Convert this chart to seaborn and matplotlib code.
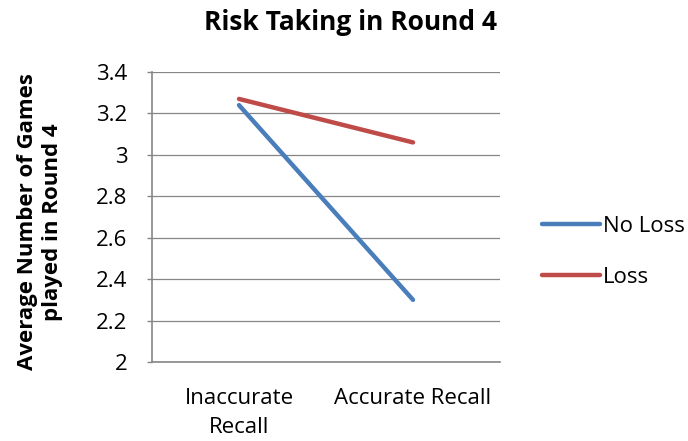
import matplotlib
matplotlib.use("Agg")
import matplotlib.pyplot as plt
import seaborn as sns
import pandas as pd
from matplotlib.lines import Line2D

categories = ["Inaccurate\nRecall", "Accurate Recall"]
no_loss = [3.24, 2.30]
loss = [3.27, 3.06]
series_names = ["No Loss", "Loss"]
yticks = [2, 2.2, 2.4, 2.6, 2.8, 3, 3.2, 3.4]
ytick_labels = ["2", "2.2", "2.4", "2.6", "2.8", "3", "3.2", "3.4"]

df = pd.DataFrame({
    "x": list(range(len(categories))) * 2,
    "value": no_loss + loss,
    "series": [series_names[0]] * len(no_loss) + [series_names[1]] * len(loss),
})

sns.set_style("white")
plt.rcParams['font.family'] = ['Open Sans', 'DejaVu Sans']
plt.rcParams['text.color'] = 'black'
plt.rcParams['xtick.color'] = 'black'
plt.rcParams['ytick.color'] = 'black'

fig = plt.figure(figsize=(6.88, 4.41), dpi=100)
ax = fig.add_axes([152/688, 1 - 362/441, 348/688, 290/441])

palette = {"No Loss": "#4A7EBB", "Loss": "#BE4B48"}
sns.lineplot(data=df, x="x", y="value", hue="series", palette=palette,
             linewidth=3.2, ax=ax, legend=False)

ax.set_xlim(-0.5, 1.5)
ax.set_ylim(2, 3.4)
ax.set_yticks(yticks)
ax.set_yticklabels(ytick_labels, fontsize=16)
ax.set_xticks([0, 1])
ax.set_xticklabels(categories, fontsize=16, color="black", linespacing=1.45)
ax.tick_params(axis='x', length=0, pad=19)
ax.tick_params(axis='y', length=3.6, width=1, color="#868686", pad=14, left=True,
               labelcolor="black")
ax.yaxis.grid(True, color="#868686", linewidth=0.9)
ax.set_axisbelow(True)
for s in ["top", "right"]:
    ax.spines[s].set_visible(False)
for s in ["left", "bottom"]:
    ax.spines[s].set_color("#868686")
    ax.spines[s].set_linewidth(1.2)
ax.set_xlabel("")
ax.set_ylabel("")

fig.text(40/688, 1 - 222/441, "Average Number of Games\nplayed in Round 4",
         rotation=90, ha="center", va="center", fontsize=16,
         fontweight="bold", linespacing=1.2)

fig.text(350/688, 1 - 22/441, "Risk Taking in Round 4", ha="center", va="center",
         fontsize=19, fontweight="bold")

handles = [Line2D([0], [0], color=palette[n], linewidth=3.2) for n in series_names]
fig.legend(handles, series_names, loc="center left",
           bbox_to_anchor=(542/688, 1 - 252/441), frameon=False, fontsize=16,
           handlelength=2.6, labelspacing=1.35, handletextpad=0.15,
           borderaxespad=0, borderpad=0)

fig.savefig("out.png", dpi=100)
